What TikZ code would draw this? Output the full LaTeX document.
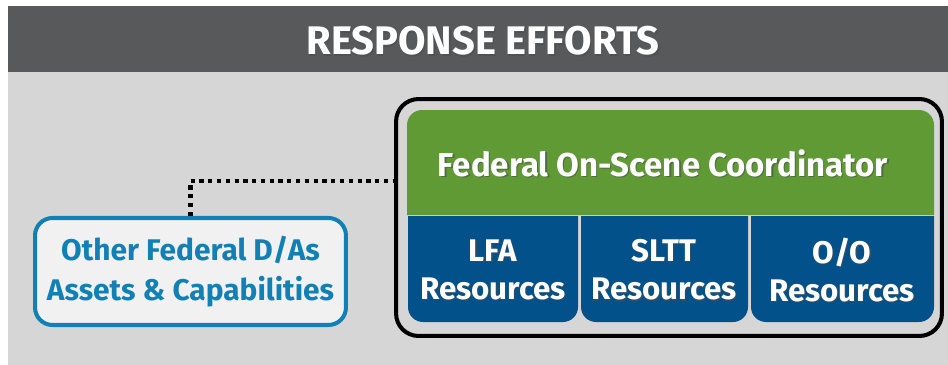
\documentclass[tikz,border=0pt]{standalone}
\usepackage{fontspec}
\setmainfont{Fira Sans}
\usepackage{tikz}
\usetikzlibrary{positioning}
\definecolor{headgray}{HTML}{58595B}
\definecolor{bggray}{HTML}{D6D6D6}
\definecolor{oscgreen}{HTML}{5F9A35}
\definecolor{resblue}{HTML}{03518A}
\definecolor{dablue}{HTML}{1180B5}
\definecolor{dafill}{HTML}{F1F1F1}
\tikzstyle{whitetext}=[text=white, align=center, inner sep=0pt]
\tikzstyle{shadetext}=[text=black!70, align=center, inner sep=0pt, opacity=.6]
\tikzstyle{dotline}=[line width=2.3pt, dash pattern=on 2.4pt off 2.6pt]
\newcommand{\shadowlabel}[4]{
	\node[shadetext, font=#3, xshift=.7pt, yshift=-.7pt] at #2 {#4};
	\node[whitetext, font=#3] (#1) at #2 {#4};
}

\begin{document}
\begin{tikzpicture}[x=0.02cm, y=-0.02cm]
	\useasboundingbox (0,0) rectangle (948,365);
	\fill[white] (0,0) rectangle (948,365);
	\fill[bggray] (8,6) rectangle (948,365);
	\fill[headgray] (8,6) rectangle (948,72);
	\shadowlabel{title}{(483,41)}{\bfseries\fontsize{22.7}{27}\selectfont}{RESPONSE EFFORTS}
%
	\node[draw=black, line width=2.3pt, rounded corners=.45cm,
		minimum width=10.92cm, minimum height=4.74cm] (frame) at (669,217.5) {};
	\fill[oscgreen] (407,215) [rounded corners=.3cm] -- (407,110) -- (934,110) [sharp corners] -- (934,215) -- cycle;
	\fill[resblue] (408,216) [rounded corners=.3cm] -- (408,322) -- (578,322) [sharp corners] -- (578,216) -- cycle;
	\fill[resblue] (581,216) [rounded corners=.3cm] -- (581,322) -- (748,322) [sharp corners] -- (748,216) -- cycle;
	\fill[resblue] (751,216) [rounded corners=.3cm] -- (751,322) -- (934,322) [sharp corners] -- (934,216) -- cycle;
%
	\shadowlabel{fosc}{(663,163)}{\bfseries\fontsize{18.8}{22}\selectfont}{Federal On-Scene Coordinator}
	\shadowlabel{lfa}{(493,270)}{\bfseries\fontsize{17.8}{21.8}\selectfont}{LFA\\Resources}
	\shadowlabel{sltt}{(664,270)}{\bfseries\fontsize{17.8}{21.8}\selectfont}{SLTT\\Resources}
	\shadowlabel{oo}{(842,270)}{\bfseries\fontsize{17.8}{21.8}\selectfont}{O/O\\Resources}
%
	\node[draw=dablue, fill=dafill, line width=2.3pt, rounded corners=.35cm,
		minimum width=6.22cm, minimum height=2.14cm, text=dablue, align=center,
		font=\bfseries\fontsize{17}{22.7}\selectfont] (other) at (190.5,271.5)
		{Other Federal D/As\\Assets \& Capabilities};
	\coordinate (join) at (395,181);
	\draw[dotline] (other.north) |- (join);
\end{tikzpicture}
\end{document}
